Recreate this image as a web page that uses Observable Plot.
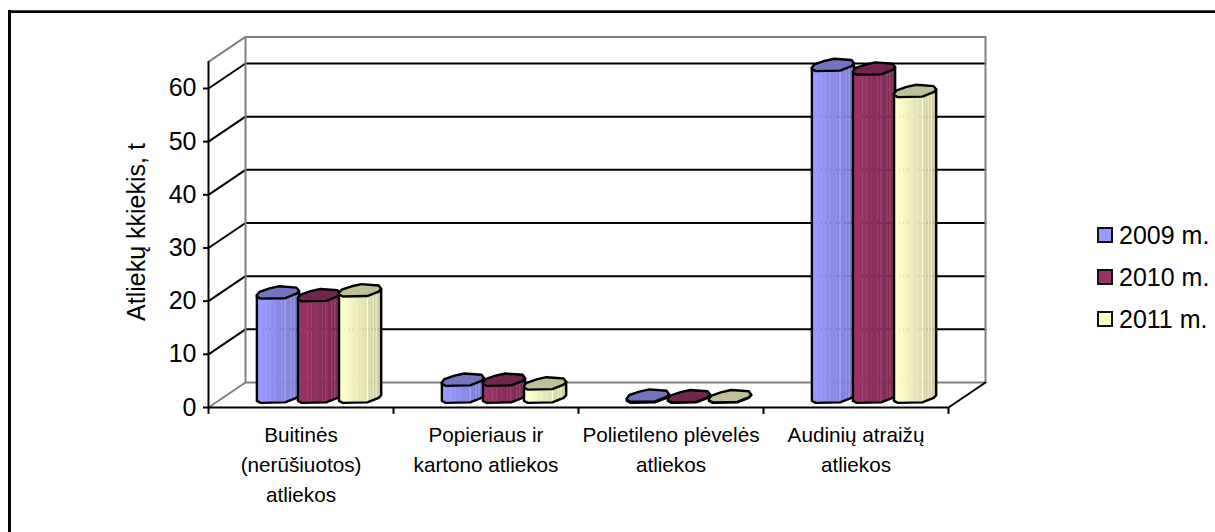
<!DOCTYPE html>
<html><head><meta charset="utf-8">
<script src="https://cdn.jsdelivr.net/npm/d3@7"></script>
<script src="https://cdn.jsdelivr.net/npm/@observablehq/plot@0.6"></script>
<style>
html,body{margin:0;padding:0;background:#fff;overflow:hidden}
#wrap{position:relative;width:1215px;height:532px;font-family:"Liberation Sans",Arial,sans-serif;color:#000}
#wrap svg{position:absolute;left:0;top:0;font-family:"Liberation Sans",Arial,sans-serif}
#edgeT{position:absolute;left:8px;top:10px;right:0;height:3px;background:linear-gradient(#777,#000 50%)}
#edgeL{position:absolute;left:8px;top:10px;bottom:0;width:2.5px;background:#000}
.lg{position:absolute;left:1097px;display:flex;align-items:center;font-size:25px;line-height:20px;white-space:nowrap}
.lg i{display:block;width:12px;height:12px;border:2px solid #111;margin-right:6px;box-sizing:content-box}
</style></head>
<body><div id="wrap"><div id="edgeT"></div><div id="edgeL"></div></div>
<script>
// ---- chart data ----
const categories = ["Buitinės\n(nerūšiuotos)\natliekos","Popieriaus ir\nkartono atliekos","Polietileno plėvelės\natliekos","Audinių atraižų\natliekos"];
const years = ["2009 m.","2010 m.","2011 m."];
const values2009 = [19.6, 3.2, 0.2, 62.4];
const values2010 = [19.1, 3.2, 0.1, 61.7];
const values2011 = [20.0, 2.5, 0.1, 57.5];
const yTicks = [0,10,20,30,40,50,60];
const yLabel = "Atliekų kkiekis, t";
const colors = ["#9999FF","#993366","#FFFFCC"];

// ---- 3D construction, in scale units ----
const yTop = 65;
const depthX = 0.2, depthY = 4.7;
const barW = 0.228, barStep = 0.222, baseLift = 1.9;
const rimRear = [[.5,.4],[.44,1.05],[.03,1.3],[-.2,.9],[-.44,.25],[-.5,-.38]];
const rimFront = [[-.5,-.66],[-.41,-1.03],[.17,-.94],[.44,-.1],[.5,.4]];
const stripEdges = [-.5,-.38,-.28,-.18,-.05,.08,.16,.19,.26,.30,.33,.37,.40,.44,.5];
const stripShades = [1,.985,.96,.93,.9,.88,1.02,.86,.84,.92,.82,.92,.8,.78];
const rimShade = .75;

const series = [values2009,values2010,values2011];
const shade = (c,k) => { const r=d3.rgb(c); return d3.rgb(r.r*k,r.g*k,r.b*k).formatHex(); };
const frontAt = u => {
  for (let i=0;i<rimFront.length-1;i++){
    const [a,b]=rimFront[i],[c,e]=rimFront[i+1];
    if(u<=c) return b+(e-b)*(u-a)/(c-a);
  }
  return rimFront[rimFront.length-1][1];
};
const polys=[],outlines=[];
categories.forEach((_,c)=>years.forEach((_,s)=>{
  const v=series[s][c];
  const cx=c+.5+.0975+(s-1)*barStep;
  const P=(u,w,h)=>({x:cx+u*barW,y:baseLift+h+w});
  const id=`${c}-${s}`;
  stripShades.forEach((k,i)=>{
    const a=stripEdges[i],b=stripEdges[i+1],f=shade(colors[s],k),sid=`${id}-${i}`;
    [P(a,frontAt(a),v),P(b,frontAt(b),v),P(b,frontAt(b),0),P(a,frontAt(a),0)]
      .forEach(p=>polys.push({...p,id:sid,f,order:c*3+s}));
  });
  const body=[...rimFront.map(([u,w])=>P(u,w,0)),P(.5,.4,v),P(-.5,-.38,v)];
  const rim=[...rimRear,...rimFront].map(([u,w])=>P(u,w,v));
  outlines.push({id,order:c*3+s,body,rim,f:shade(colors[s],rimShade)});
}));

const L=(pts,o={})=>Plot.line(pts,{x:"x",y:"y",stroke:"#000",strokeWidth:2,...o});
const back=(x,y)=>({x:x+depthX,y:y+depthY});
const gridMarks=[
  L(yTicks.slice(1).flatMap(t=>[{x:0,y:t},back(0,t),back(4,t)].map(p=>({...p,t}))),{z:"t"}),
  L([{x:0,y:0},back(0,0),back(4,0),back(4,yTop),back(0,yTop),{x:0,y:yTop}],{stroke:"#808080"}),
  L([back(0,0),back(0,yTop)],{stroke:"#808080"}),
  L([back(4,0),{x:4,y:0},{x:0,y:0},{x:0,y:yTop}])
];
const barMarks=[];
outlines.forEach(o=>{
  const sp=polys.filter(p=>p.order===o.order);
  barMarks.push(Plot.line(sp,{x:"x",y:"y",z:"id",fill:"f",stroke:"f",strokeWidth:.6}));
  barMarks.push(L([...o.body,o.body[0]],{strokeLinejoin:"round",strokeWidth:2.4}));
  barMarks.push(L([...o.rim,o.rim[0]],{fill:o.f,strokeLinejoin:"round",strokeWidth:2.4}));
});

const plot=Plot.plot({
  width:1215,height:532,
  marginTop:0,marginBottom:0,marginLeft:0,marginRight:0,
  x:{domain:[0,4],range:[208,948],axis:null},
  y:{domain:[0,yTop],range:[407,407-yTop*5.317],axis:null},
  style:{background:"transparent",fontFamily:'"Liberation Sans",Arial,sans-serif',color:"#000"},
  marks:[
    ...gridMarks,
    ...barMarks,
    Plot.axisY(yTicks,{x:0,anchor:"left",tickSize:5,tickPadding:7,fontSize:25,label:null,stroke:"#000",strokeWidth:2,tickFormat:d=>d,fill:"#000"}),
    Plot.ruleX(d3.range(0,5),{x:d=>d,y1:0,y2:-1.3,stroke:"#000",strokeWidth:2}),
    Plot.text(categories,{x:(_,i)=>i+.5,y:0,dy:13,text:d=>d,lineAnchor:"top",fontSize:20.7,lineHeight:1.46,fill:"#000"}),
    Plot.text([yLabel],{x:0,y:33,dx:-72,rotate:-90,fontSize:25,fill:"#000"})
  ]
});
const w=document.getElementById("wrap");
w.appendChild(plot);
years.forEach((y,i)=>{
  const d=document.createElement("div");d.className="lg";d.style.top=(225+i*42)+"px";
  d.innerHTML=`<i style="background:${colors[i]}"></i>${y}`;w.appendChild(d);
});
</script></body></html>
